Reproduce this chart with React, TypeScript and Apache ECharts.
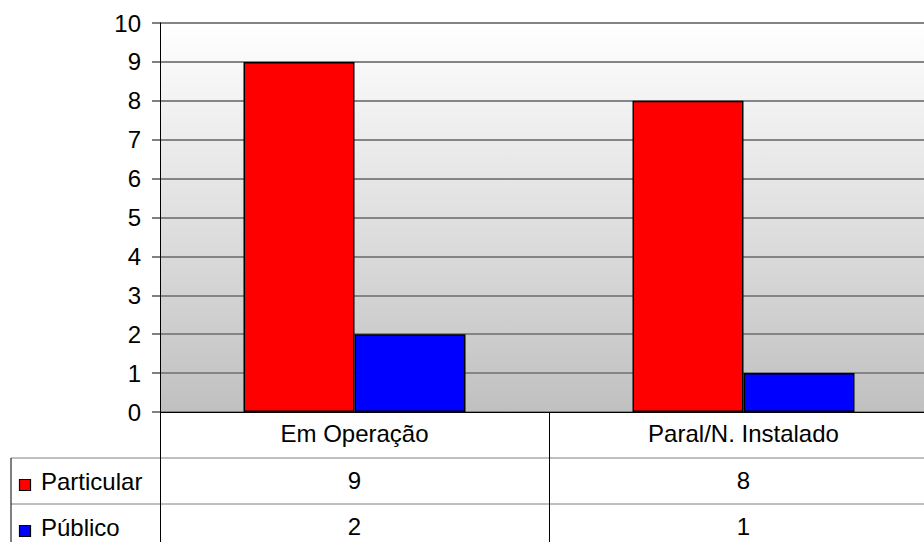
import React, { useEffect, useRef } from "react";
import * as echarts from "echarts";

const categories = ["Em Operação", "Paral/N. Instalado"];
const seriesNames = ["Particular", "Público"];
const particularValues = [9, 8];
const publicoValues = [2, 1];
const seriesColors = ["#ff0000", "#0000ff"];
const yTicks = { min: 0, max: 10, interval: 1 };

const FONT = "'Liberation Sans', Arial, sans-serif";

export default function App() {
  const ref = useRef<HTMLDivElement>(null);
  useEffect(() => {
    if (!ref.current) return;
    const chart = echarts.init(ref.current, null, { renderer: "svg" });
    const seriesValues = [particularValues, publicoValues];
    const gridLeft = 160;
    const gridTop = 23;
    const gridHeight = 389;
    const gridWidth = 778;
    const plotBottom = gridTop + gridHeight;
    const rowH = 46;

    const tableGraphics: any[] = [];
    for (let r = 1; r <= 2; r++) {
      const y = plotBottom + rowH * r;
      tableGraphics.push({
        type: "line",
        shape: { x1: 11, y1: y, x2: 924, y2: y },
        style: { stroke: "#808080", lineWidth: 1 },
        silent: true,
      });
    }
    tableGraphics.push({
      type: "line",
      shape: { x1: 11, y1: plotBottom + rowH, x2: 11, y2: 542 },
      style: { stroke: "#000", lineWidth: 1 },
      silent: true,
    });
    seriesNames.forEach((name, i) => {
      const cy = plotBottom + rowH * (i + 1) + 23;
      tableGraphics.push({
        type: "rect",
        shape: { x: 19.5, y: cy - 1.5, width: 11, height: 11 },
        style: { fill: seriesColors[i], stroke: "#000", lineWidth: 1.2 },
        silent: true,
      });
      tableGraphics.push({
        type: "text",
        x: 41,
        y: cy,
        style: {
          text: name,
          font: `24px ${FONT}`,
          fill: "#000",
          verticalAlign: "middle",
        },
        silent: true,
      });
    });

    const valueAxis = (idx: number) => ({
      type: "category",
      data: categories,
      gridIndex: 0,
      position: "bottom",
      offset: rowH * (idx + 1),
      axisLine: { show: false },
      axisTick: { show: false },
      axisLabel: {
        interval: 0,
        margin: 22,
        verticalAlign: "middle",
        fontSize: 24,
        fontFamily: FONT,
        color: "#000",
        formatter: (_v: string, i: number) => String(seriesValues[idx][i]),
      },
    });

    chart.setOption({
      animation: false,
      backgroundColor: "#fff",
      grid: {
        left: gridLeft,
        top: gridTop,
        width: gridWidth,
        height: gridHeight,
        outerBoundsMode: "none",
        containLabel: false,
        show: true,
        borderWidth: 0,
        backgroundColor: new echarts.graphic.LinearGradient(0, 0, 0, 1, [
          { offset: 0, color: "#ffffff" },
          { offset: 1, color: "#c0c0c0" },
        ]),
      },
      xAxis: [
        {
          type: "category",
          data: categories,
          gridIndex: 0,
          position: "bottom",
          axisLine: { show: true, lineStyle: { color: "#000", width: 1 } },
          axisTick: {
            show: true,
            length: 130,
            inside: false,
            lineStyle: { color: "#000", width: 1 },
          },
          axisLabel: {
            interval: 0,
            margin: 21,
            verticalAlign: "middle",
            fontSize: 24,
            fontFamily: FONT,
            color: "#000",
          },
        },
        valueAxis(0),
        valueAxis(1),
      ],
      yAxis: {
        type: "value",
        min: yTicks.min,
        max: yTicks.max,
        interval: yTicks.interval,
        axisLine: { show: true, lineStyle: { color: "#000", width: 1 } },
        axisTick: {
          show: true,
          length: 8,
          lineStyle: { color: "#808080", width: 2 },
        },
        axisLabel: {
          margin: 19,
          fontSize: 24,
          fontFamily: FONT,
          color: "#000",
        },
        splitLine: { show: true, lineStyle: { color: "#858585", width: 2 } },
      },
      series: seriesNames.map((name, i) => ({
        name,
        type: "bar",
        xAxisIndex: 0,
        data: seriesValues[i],
        barWidth: 111,
        barGap: "0%",
        itemStyle: {
          color: seriesColors[i],
          borderColor: "#000",
          borderWidth: 1.5,
        },
      })),
      graphic: tableGraphics,
    });
    return () => chart.dispose();
  }, []);
  return (
    <div
      ref={ref}
      style={{ position: "absolute", left: 0, top: 0, width: 924, height: 542 }}
    />
  );
}
